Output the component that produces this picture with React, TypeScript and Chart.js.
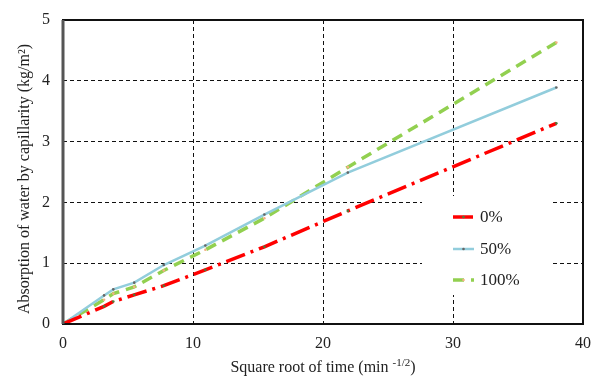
import React, { useEffect, useRef } from "react";
import { Chart, registerables } from "chart.js";

Chart.register(...registerables);

const sqrtTime = [0, 3.16, 3.87, 5.48, 7.75, 10.95, 15.49, 21.91, 37.95];
const series0 = [0, 0.29, 0.37, 0.48, 0.63, 0.89, 1.27, 1.86, 3.3];
const series50 = [0, 0.47, 0.57, 0.68, 0.97, 1.29, 1.8, 2.49, 3.89];
const series100 = [0, 0.4, 0.5, 0.61, 0.88, 1.22, 1.74, 2.58, 4.63];
const seriesLabels = ["0%", "50%", "100%"];
const xTitleMain = "Square root of time (min ";
const xTitleSup = "-1/2";
const xTitleEnd = ")";
const yTitle = "Absorption of water by capillarity (kg/m²)";

const FONT = '"Liberation Serif", "Times New Roman", serif';

const toPts = (ys: number[]) => sqrtTime.map((x, i) => ({ x, y: ys[i] }));

const overlay = {
  id: "overlay",
  afterDraw(chart: any) {
    const { ctx, chartArea } = chart;
    const { left, right, top, bottom } = chartArea;
    ctx.save();
    // frame
    ctx.strokeStyle = "#111";
    ctx.lineWidth = 2;
    ctx.setLineDash([]);
    ctx.strokeRect(left, top, right - left, bottom - top);
    ctx.strokeStyle = "#555";
    ctx.lineWidth = 3;
    ctx.beginPath();
    ctx.moveTo(left, top);
    ctx.lineTo(left, bottom);
    ctx.stroke();

    // legend
    ctx.fillStyle = "#fff";
    ctx.fillRect(422, 196, 131, 99);
    const ys = [217, 249, 280];
    chart.data.datasets.forEach((ds: any, i: number) => {
      const y = ys[i];
      ctx.strokeStyle = ds.borderColor;
      ctx.lineWidth = ds.borderWidth;
      ctx.setLineDash(ds.borderDash || []);
      ctx.beginPath();
      ctx.moveTo(453, y);
      ctx.lineTo(474, y);
      ctx.stroke();
      ctx.setLineDash([]);
      ctx.fillStyle = ds.pointBackgroundColor;
      ctx.beginPath();
      ctx.arc(463.5, y, 1.3, 0, Math.PI * 2);
      ctx.fill();
      ctx.fillStyle = "#222";
      ctx.font = `17px ${FONT}`;
      ctx.textAlign = "left";
      ctx.textBaseline = "middle";
      ctx.fillText(ds.label, 480, y + 1);
    });

    // x title
    ctx.fillStyle = "#222";
    ctx.textBaseline = "alphabetic";
    ctx.textAlign = "left";
    ctx.font = `16px ${FONT}`;
    const w1 = ctx.measureText(xTitleMain).width;
    const w3 = ctx.measureText(xTitleEnd).width;
    ctx.font = `11px ${FONT}`;
    const w2 = ctx.measureText(xTitleSup).width;
    const total = w1 + w2 + w3;
    let x0 = (left + right) / 2 - total / 2;
    const base = 372;
    ctx.font = `16px ${FONT}`;
    ctx.fillText(xTitleMain, x0, base);
    ctx.font = `11px ${FONT}`;
    ctx.fillText(xTitleSup, x0 + w1, base - 6);
    ctx.font = `16px ${FONT}`;
    ctx.fillText(xTitleEnd, x0 + w1 + w2, base);

    // y title
    ctx.translate(25, 179);
    ctx.rotate(-Math.PI / 2);
    ctx.textAlign = "center";
    ctx.textBaseline = "middle";
    ctx.font = `16px ${FONT}`;
    ctx.fillText(yTitle, 0, 0);
    ctx.restore();
  },
};

export default function App() {
  const ref = useRef<HTMLCanvasElement | null>(null);
  useEffect(() => {
    if (!ref.current) return;
    const chart = new Chart(ref.current, {
      type: "line",
      data: {
        datasets: [
          {
            label: seriesLabels[0],
            data: toPts(series0),
            borderColor: "#ff0000",
            borderWidth: 3.5,
            borderDash: [20, 6, 3, 6],
            pointRadius: 1.3,
            pointBackgroundColor: "#4e7a3a",
            pointBorderWidth: 0,
            tension: 0,
          },
          {
            label: seriesLabels[1],
            data: toPts(series50),
            borderColor: "#92cddc",
            borderWidth: 2.5,
            pointRadius: 1.3,
            pointBackgroundColor: "#666666",
            pointBorderWidth: 0,
            tension: 0,
          },
          {
            label: seriesLabels[2],
            data: toPts(series100),
            borderColor: "#92d050",
            borderWidth: 3.5,
            borderDash: [11, 7],
            pointRadius: 1.3,
            pointBackgroundColor: "#f4b183",
            pointBorderWidth: 0,
            tension: 0,
          },
        ],
      },
      options: {
        animation: false,
        responsive: true,
        maintainAspectRatio: false,
        layout: { padding: { top: 20, right: 15, left: 0, bottom: 0 } },
        plugins: { legend: { display: false }, tooltip: { enabled: false } },
        scales: {
          x: {
            type: "linear",
            min: 0,
            max: 40,
            ticks: {
              stepSize: 10,
              color: "#222",
              font: { family: FONT, size: 16 },
              padding: 10,
              maxRotation: 0,
            },
            grid: { color: "#111", lineWidth: 1, drawTicks: false },
            border: { display: false, dash: [4, 3] },
            afterFit: (s: any) => {
              s.height = 52;
              s.paddingLeft = 0;
              s.paddingRight = 0;
            },
          },
          y: {
            min: 0,
            max: 5,
            ticks: {
              stepSize: 1,
              color: "#222",
              font: { family: FONT, size: 16 },
              padding: 13,
            },
            grid: { color: "#111", lineWidth: 1, drawTicks: false },
            border: { display: false, dash: [4, 3] },
            afterFit: (s: any) => {
              s.width = 63;
              s.paddingTop = 0;
              s.paddingBottom = 0;
            },
          },
        },
      },
      plugins: [overlay],
    });
    return () => chart.destroy();
  }, []);
  return (
    <div style={{ position: "absolute", left: 0, top: 0, width: 598, height: 376 }}>
      <canvas ref={ref} />
    </div>
  );
}
